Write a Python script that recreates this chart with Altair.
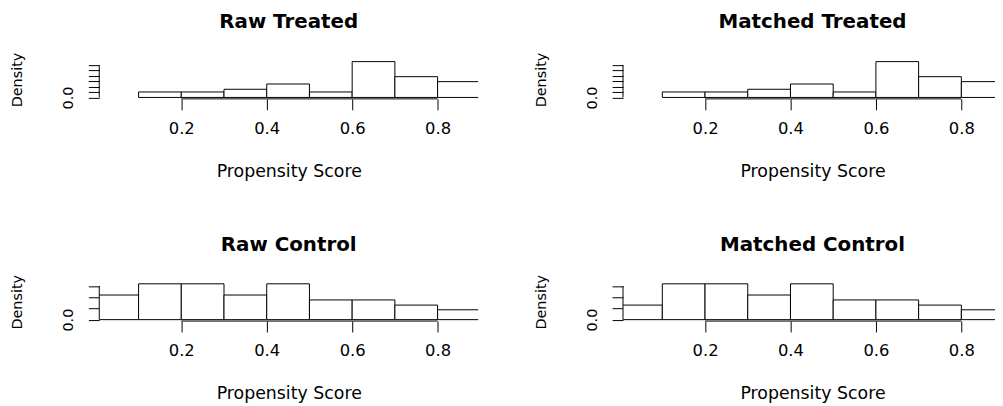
import altair as alt
import pandas as pd

# ---- data ----
bin_lo = [0.0, 0.1, 0.2, 0.3, 0.4, 0.5, 0.6, 0.7, 0.8]
bin_hi = [0.1, 0.2, 0.3, 0.4, 0.5, 0.6, 0.7, 0.8, 0.9]

raw_treated = [None, 0.51, 0.51, 0.76, 1.25, 0.51, 3.33, 1.93, 1.47]
matched_treated = [None, 0.51, 0.51, 0.76, 1.25, 0.51, 3.33, 1.93, 1.47]
raw_control = [1.10, 1.60, 1.60, 1.10, 1.60, 0.88, 0.88, 0.65, 0.44]
matched_control = [0.65, 1.60, 1.60, 1.10, 1.60, 0.88, 0.88, 0.65, 0.44]

x_ticks = [0.2, 0.4, 0.6, 0.8]
treated_y_ticks = [0.0, 0.5, 1.0, 1.5, 2.0, 2.5, 3.0]
control_y_ticks = [0.0, 0.5, 1.0, 1.5]

titles = ["Raw Treated", "Matched Treated", "Raw Control", "Matched Control"]
x_title = "Propensity Score"
y_title = "Density"

X_DOMAIN = [0.008, 0.895]
FONT = "DejaVu Sans"
W, H = 382, 39


def panel(title, dens, yticks):
    df = pd.DataFrame({"lo": bin_lo, "hi": bin_hi, "d": dens}).dropna()
    df["base"] = 0.0
    dmax = float(df["d"].max())
    ymin, ymax = -0.04 * dmax, 1.04 * dmax
    xsc = alt.Scale(domain=X_DOMAIN, nice=False, zero=False)
    ysc = alt.Scale(domain=[ymin, ymax], nice=False, zero=False)
    xaxis = alt.Axis(
        values=x_ticks, format=".1f", domain=False, grid=False,
        tickSize=11, tickColor="black", tickWidth=1,
        labelFont=FONT, labelFontSize=16.5, labelColor="black",
        labelBaseline="alphabetic", labelPadding=24, labelFlush=False,
        labelOverlap=False,
        title=x_title, titleFont=FONT, titleFontSize=17.5,
        titleFontWeight="normal", titleColor="black",
        titleX=191, titleY=78, titleAlign="center", titleBaseline="alphabetic",
    )
    yaxis = alt.Axis(
        values=yticks, domain=False, grid=False,
        tickSize=11, tickColor="black", tickWidth=1,
        labelExpr="datum.value == 0 ? '0.0' : ''",
        labelAngle=270, labelAlign="center", labelBaseline="alphabetic",
        labelFont=FONT, labelFontSize=14.5, labelColor="black",
        labelPadding=15.5, labelOverlap=False, labelFlush=False,
        title=y_title, titleFont=FONT, titleFontSize=14.5,
        titleFontWeight="normal", titleColor="black",
        titleAngle=270, titleX=-82, titleY=H / 2,
        titleAlign="center", titleBaseline="middle",
    )
    bars = alt.Chart(df).mark_rect(
        fill="white", stroke="black", strokeWidth=1, clip=True
    ).encode(
        x=alt.X("lo:Q", scale=xsc, axis=xaxis),
        x2="hi:Q",
        y=alt.Y("d:Q", scale=ysc, axis=yaxis),
        y2="base:Q",
    )
    xline_df = pd.DataFrame({"lo": [x_ticks[0]], "hi": [x_ticks[-1]], "d": [ymin]})
    xline = alt.Chart(xline_df).mark_rule(color="black", strokeWidth=1).encode(
        x=alt.X("lo:Q", scale=xsc, axis=xaxis),
        x2="hi:Q",
        y=alt.Y("d:Q", scale=ysc, axis=yaxis),
    )
    yline_df = pd.DataFrame({"lo": [X_DOMAIN[0]], "d": [yticks[-1]], "base": [yticks[0]]})
    yline = alt.Chart(yline_df).mark_rule(color="black", strokeWidth=1).encode(
        x=alt.X("lo:Q", scale=xsc, axis=xaxis),
        y=alt.Y("d:Q", scale=ysc, axis=yaxis),
        y2="base:Q",
    )
    return alt.layer(bars, xline, yline).properties(
        width=W, height=H,
        title=alt.TitleParams(
            text=title, font=FONT, fontSize=20, fontWeight="bold",
            color="black", anchor="middle", frame="group",
            baseline="alphabetic", offset=4,
        ),
    )


p1 = panel(titles[0], raw_treated, treated_y_ticks)
p2 = panel(titles[1], matched_treated, treated_y_ticks)
p3 = panel(titles[2], raw_control, control_y_ticks)
p4 = panel(titles[3], matched_control, control_y_ticks)

chart = alt.concat(
    p1, p2, p3, p4, columns=2,
    spacing={"row": 185, "column": 146}, bounds="flush",
).properties(
    autosize=alt.AutoSizeParams(type="none"),
    padding={"left": 92, "top": 51, "right": 903, "bottom": 347},
    background="white",
).configure_view(stroke=None)

chart.save("out.html", embed_options={"renderer": "svg", "actions": False})
